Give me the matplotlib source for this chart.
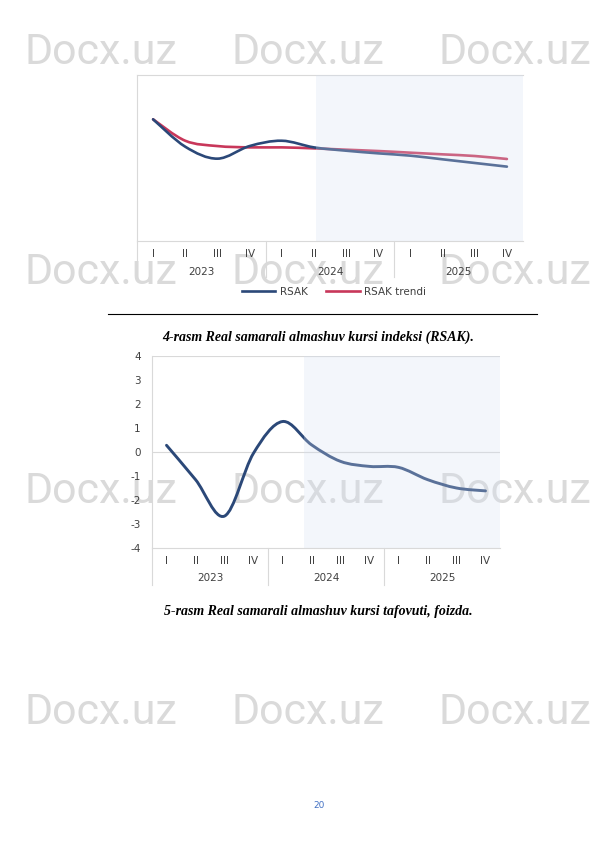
import matplotlib
matplotlib.use("Agg")
import matplotlib.pyplot as plt
from matplotlib.path import Path
from matplotlib.patches import PathPatch, Rectangle
from matplotlib.lines import Line2D
import numpy as np

# ---------------- data ----------------
quarters = ["I", "II", "III", "IV"] * 3
years = ["2023", "2024", "2025"]

# Chart 1 (index, arbitrary units; no y-axis shown)
rsak = [73.3, 56.8, 49.6, 57.2, 60.4, 56.4, 54.4, 52.8, 51.4, 49.2, 47.0, 44.8]
rsak_trend = [73.3, 60.4, 57.2, 56.4, 56.4, 55.8, 55.0, 54.2, 53.2, 52.2, 51.2, 49.4]

# Chart 2 (gap, percent)
gap = [0.28, -1.15, -2.67, -0.05, 1.27, 0.30, -0.39, -0.60, -0.64, -1.15, -1.50, -1.62]
gap_ticks = [4, 3, 2, 1, 0, -1, -2, -3, -4]

caption1 = "4-rasm Real samarali almashuv kursi indeksi (RSAK)."
caption2 = "5-rasm Real samarali almashuv kursi tafovuti, foizda."
legend_labels = ["RSAK", "RSAK trendi"]
page_no = "20"
watermark = "Docx.uz"

# ---------------- style ----------------
NAVY = "#2b4878"
RED = "#c8375a"
GRID = "#d9d9d9"
TXT = "#404040"
SHADE_C = (212/255, 223/255, 241/255)
SHADE_A = 0.28

W, H = 595, 842
fig = plt.figure(figsize=(W/100, H/100), dpi=100)
fig.patch.set_facecolor("white")


def px_axes(x0, y0, x1, y1):
    return fig.add_axes([x0/W, 1 - y1/H, (x1-x0)/W, (y1-y0)/H])


def smooth_patch(x, y, color, lw):
    x = np.asarray(x, float); y = np.asarray(y, float)
    n = len(x)
    verts = [(x[0], y[0])]
    codes = [Path.MOVETO]
    for i in range(n-1):
        xm, ym = (x[i-1], y[i-1]) if i > 0 else (x[i], y[i])
        xp, yp = (x[i+2], y[i+2]) if i+2 < n else (x[i+1], y[i+1])
        c1 = (x[i] + (x[i+1]-xm)/6, y[i] + (y[i+1]-ym)/6)
        c2 = (x[i+1] - (xp-x[i])/6, y[i+1] - (yp-y[i])/6)
        verts += [c1, c2, (x[i+1], y[i+1])]
        codes += [Path.CURVE4]*3
    return PathPatch(Path(verts, codes), fill=False, edgecolor=color, lw=lw,
                     capstyle="round", joinstyle="round", zorder=3)


# watermarks (behind everything)
for yy in [52, 272, 492, 712]:
    for xx in [101, 308, 515]:
        fig.text(xx/W, 1-yy/H, watermark, fontsize=31, family="Roboto",
                 color="#dadada", ha="center", va="center", zorder=-5)

xs = np.arange(12)

# ---------------- chart 1 ----------------
ax1 = px_axes(137, 75, 523, 241)
ax1.set_facecolor("none")
ax1.set_xlim(-0.5, 11.5)
ax1.set_ylim(0, 100)
ax1.add_patch(smooth_patch(xs, rsak_trend, RED, 1.9))
ax1.add_patch(smooth_patch(xs, rsak, NAVY, 1.9))
ax1.add_patch(Rectangle((5.05, 0), 11.5-5.05, 100, facecolor=SHADE_C,
                        alpha=SHADE_A, edgecolor="none", zorder=4))
ax1.spines["right"].set_visible(False)
for s in ["top", "left", "bottom"]:
    ax1.spines[s].set_color(GRID)
for s in ax1.spines.values():
    s.set_linewidth(0.8)
ax1.set_yticks([])
ax1.set_xticks(xs, quarters)
ax1.tick_params(axis="x", length=0, pad=5.5, labelsize=7.5, labelcolor=TXT)
xt = ax1.get_xaxis_transform()
for k, yr in enumerate(years):
    ax1.text(4*k + 1.5, -0.187, yr, transform=xt, ha="center", va="center",
             fontsize=7.5, color=TXT)
for b in [-0.5, 3.5, 7.5]:
    ax1.plot([b, b], [0, -0.217], transform=xt, color=GRID, lw=0.8,
             clip_on=False)
handles = [Line2D([], [], color=NAVY, lw=1.9), Line2D([], [], color=RED, lw=1.9)]
ax1.legend(handles, legend_labels, loc="center", bbox_to_anchor=(0.51, -0.307),
           ncol=2, frameon=False, fontsize=7.5, handlelength=3.2,
           columnspacing=1.8, handletextpad=0.4, labelcolor=TXT)

# separator line under chart 1
fig.add_artist(Line2D([108/W, 537/W], [1-314/H, 1-314/H], color="black", lw=0.8))

fig.text(318/W, 1-337/H, caption1, ha="center", va="center", fontsize=10,
         family="Liberation Serif", weight="bold", style="italic")

# ---------------- chart 2 ----------------
ax2 = px_axes(152, 356, 500, 548)
ax2.set_facecolor("none")
ax2.set_xlim(-0.5, 11.5)
ax2.set_ylim(-4, 4)
for g in [4, 0]:
    ax2.axhline(g, color=GRID, lw=0.8, zorder=1)
ax2.add_patch(smooth_patch(xs, gap, NAVY, 2.1))
ax2.add_patch(Rectangle((4.75, -4), 11.5-4.75, 8, facecolor=SHADE_C,
                        alpha=SHADE_A, edgecolor="none", zorder=4))
for s in ["right", "top"]:
    ax2.spines[s].set_visible(False)
ax2.spines["left"].set_color(GRID)
ax2.spines["bottom"].set_color(GRID)
for s in ax2.spines.values():
    s.set_linewidth(0.8)
ax2.set_yticks(gap_ticks, [str(t) for t in gap_ticks])
ax2.tick_params(axis="y", length=0, pad=8, labelsize=7.5, labelcolor=TXT)
ax2.set_xticks(xs, quarters)
ax2.tick_params(axis="x", length=0, pad=5.5, labelsize=7.5, labelcolor=TXT)
xt2 = ax2.get_xaxis_transform()
for k, yr in enumerate(years):
    ax2.text(4*k + 1.5, -0.156, yr, transform=xt2, ha="center", va="center",
             fontsize=7.5, color=TXT)
for b in [-0.5, 3.5, 7.5]:
    ax2.plot([b, b], [0, -0.193], transform=xt2, color=GRID, lw=0.8,
             clip_on=False)

fig.text(318/W, 1-612/H, caption2, ha="center", va="center", fontsize=10,
         family="Liberation Serif", weight="bold", style="italic")

fig.text(319/W, 1-806/H, page_no, ha="center", va="center", fontsize=6.5,
         color="#4472c4")

fig.savefig("out.png", dpi=100)
